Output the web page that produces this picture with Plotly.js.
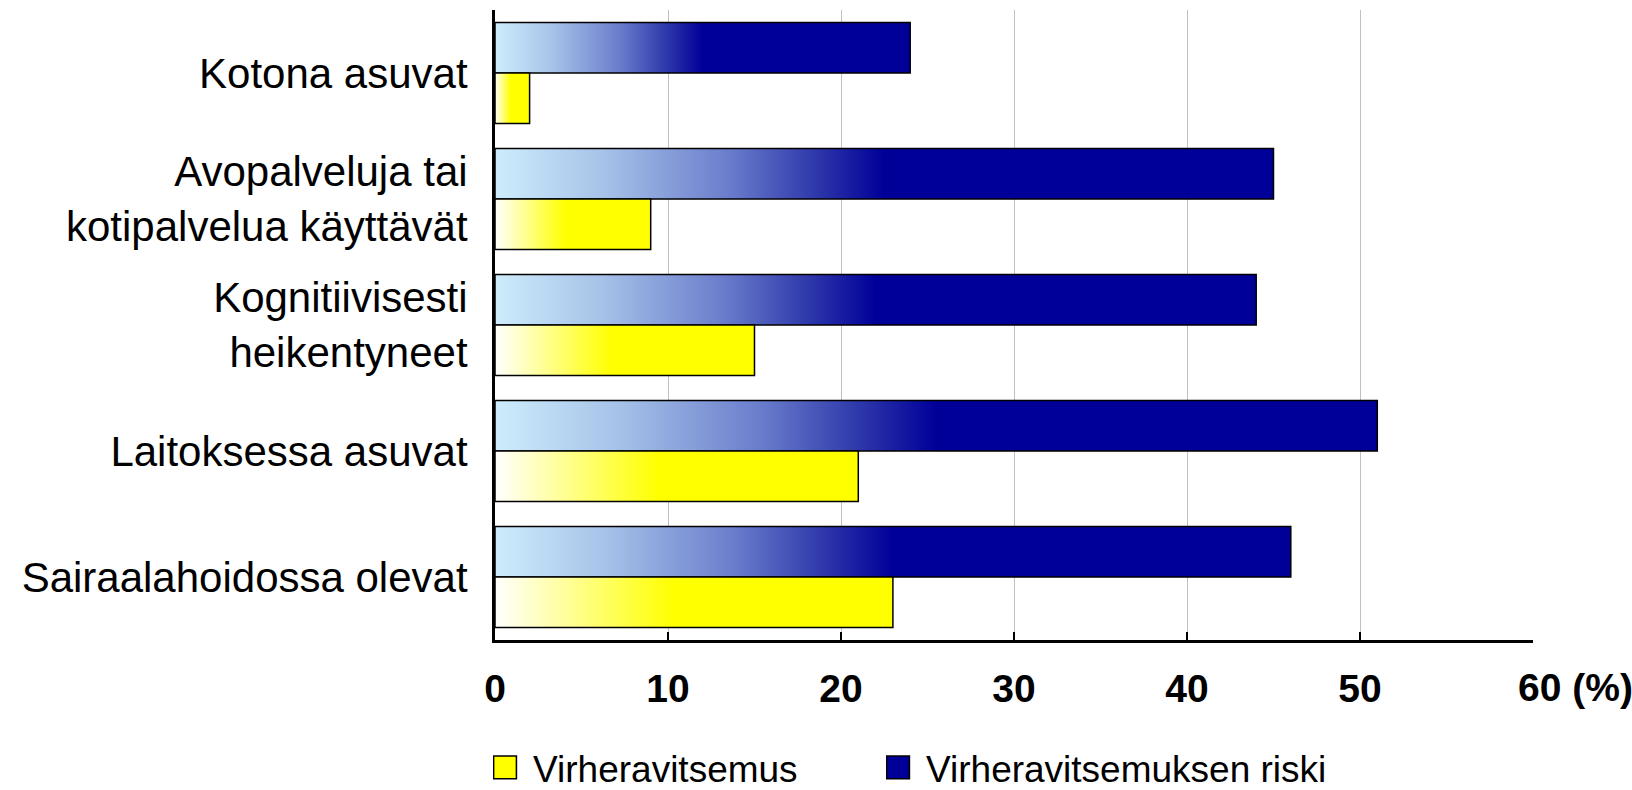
<!DOCTYPE html>
<html>
<head>
<meta charset="utf-8">
<script src="https://cdn.plot.ly/plotly-3.0.1.min.js"></script>
<style>
  html, body { margin: 0; padding: 0; background: #ffffff; }
  #chart { width: 1632px; height: 790px; }
</style>
</head>
<body>
<div id="chart"></div>
<script>
// ---- data ----
const categories = [
  "Kotona asuvat",
  "Avopalveluja tai<br>kotipalvelua käyttävät",
  "Kognitiivisesti<br>heikentyneet",
  "Laitoksessa asuvat",
  "Sairaalahoidossa olevat"
];
const riskValues = [24, 45, 44, 51, 46];          // Virheravitsemuksen riski
const malnutritionValues = [2, 9, 15, 21, 23];    // Virheravitsemus
const seriesNames = ["Virheravitsemuksen riski", "Virheravitsemus"];
const tickValues = [0, 10, 20, 30, 40, 50, 60];
const tickLabels = ["0", "10", "20", "30", "40", "50", ""];
const lastTickLabel = "60 (%)";

const FONT = "Liberation Sans, Arial, sans-serif";

const traces = [
  {
    type: "bar", orientation: "h",
    name: seriesNames[0],
    y: categories, x: riskValues,
    marker: { color: "#000099", line: { color: "#000000", width: 1.5 } },
    legend: "legend2",
    hoverinfo: "x"
  },
  {
    type: "bar", orientation: "h",
    name: seriesNames[1],
    y: categories, x: malnutritionValues,
    marker: { color: "#ffff00", line: { color: "#000000", width: 1.5 } },
    legend: "legend",
    hoverinfo: "x"
  }
];

const legendCommon = {
  orientation: "h",
  xref: "container", yref: "container",
  xanchor: "left",
  y: 0.028, yanchor: "middle",
  font: { family: FONT, size: 37, color: "#000000" },
  bgcolor: "rgba(0,0,0,0)",
  borderwidth: 0
};

const layout = {
  width: 1632, height: 790,
  margin: { l: 495, r: 99, t: 10, b: 150, pad: 0 },
  paper_bgcolor: "#ffffff",
  plot_bgcolor: "#ffffff",
  barmode: "group",
  bargap: 0.2,
  bargroupgap: 0,
  font: { family: FONT, color: "#000000" },
  showlegend: true,
  legend: Object.assign({}, legendCommon, { x: 0.3021 }),
  legend2: Object.assign({}, legendCommon, { x: 0.5429 }),
  xaxis: {
    range: [0, 60],
    tickmode: "array",
    tickvals: tickValues,
    ticktext: tickLabels,
    ticks: "inside", ticklen: 8, tickwidth: 2, tickcolor: "#000000",
    showline: true, linecolor: "#000000", linewidth: 3,
    showgrid: true, gridcolor: "#c0c0c0", gridwidth: 1,
    zeroline: false,
    tickfont: { family: FONT, size: 39, color: "#000000", weight: "bold" },
    ticklabelstandoff: 12,
    fixedrange: true
  },
  yaxis: {
    type: "category",
    autorange: "reversed",
    ticks: "",
    showline: true, linecolor: "#000000", linewidth: 3,
    showgrid: false, zeroline: false,
    tickfont: { family: FONT, size: 42, color: "#000000" },
    ticklabelstandoff: 16,
    fixedrange: true
  },
  annotations: [
    {
      xref: "x", x: tickValues[tickValues.length - 1],
      yref: "paper", y: 0,
      xanchor: "left", yanchor: "top",
      xshift: -17, yshift: -24,
      text: "<b>" + lastTickLabel + "</b>", showarrow: false,
      font: { family: FONT, size: 39, color: "#000000" }
    }
  ]
};

Plotly.newPlot("chart", traces, layout, { staticPlot: true, displayModeBar: false }).then(function (gd) {
  const svgNS = "http://www.w3.org/2000/svg";
  const svg = gd.querySelector("svg.main-svg");
  let defs = svg.querySelector("defs");
  if (!defs) { defs = document.createElementNS(svgNS, "defs"); svg.insertBefore(defs, svg.firstChild); }
  function addGrad(id, stops) {
    const g = document.createElementNS(svgNS, "linearGradient");
    g.setAttribute("id", id);
    g.setAttribute("x1", "0"); g.setAttribute("y1", "0");
    g.setAttribute("x2", "1"); g.setAttribute("y2", "0");
    stops.forEach(function (s) {
      const st = document.createElementNS(svgNS, "stop");
      st.setAttribute("offset", s[0]);
      st.setAttribute("stop-color", s[1]);
      g.appendChild(st);
    });
    defs.appendChild(g);
  }
  addGrad("gradRisk", [["0", "#cdedfc"], ["0.14", "#a6c2e8"], ["0.3", "#6a7dcc"], ["0.42", "#2a33a8"], ["0.5", "#000099"], ["1", "#000099"]]);
  addGrad("gradMal", [["0", "#ffffff"], ["0.45", "#ffff00"], ["1", "#ffff00"]]);
  const gradIds = ["gradRisk", "gradMal"];
  gd.querySelectorAll(".barlayer .trace").forEach(function (tr, i) {
    tr.querySelectorAll("path").forEach(function (p) {
      p.style.fill = "url(#" + gradIds[i] + ")";
    });
  });
  // legend symbols: larger squares
  gd.querySelectorAll(".legendpoints path").forEach(function (p) {
    p.setAttribute("transform", "translate(12,0) scale(1.9)");
    p.style.strokeWidth = "0.8px";
  });
});
</script>
</body>
</html>
